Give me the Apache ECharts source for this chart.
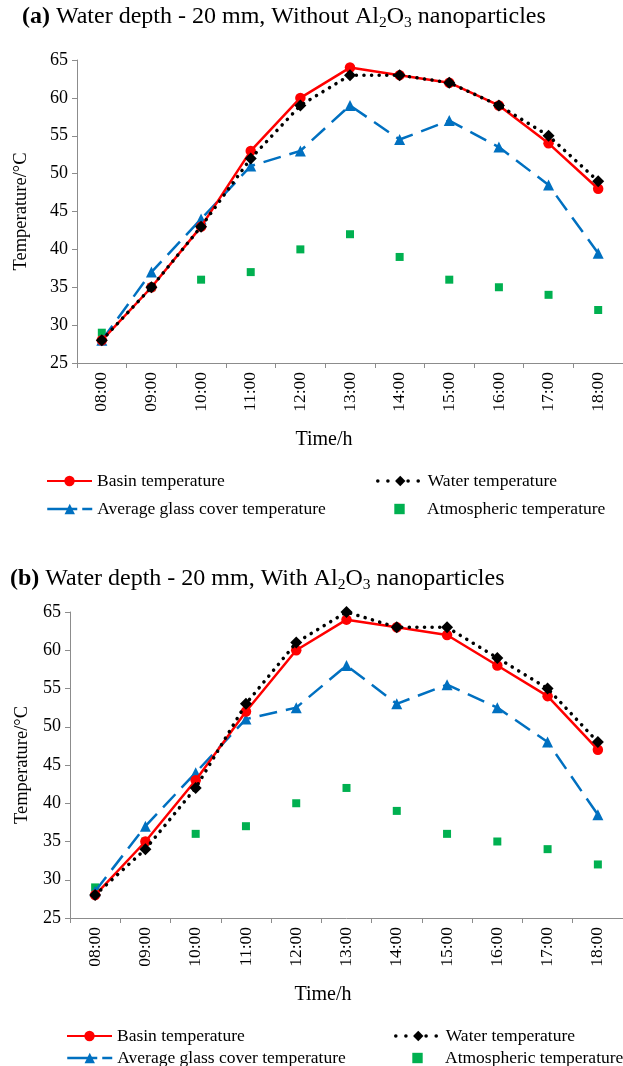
<!DOCTYPE html>
<html>
<head>
<meta charset="utf-8">
<script src="https://cdn.jsdelivr.net/npm/echarts@6/dist/echarts.min.js"></script>
<style>
html,body{margin:0;padding:0;background:#fff;}
#chart{width:623px;height:1066px;}
</style>
</head>
<body>
<div id="chart"></div>
<script>
// ---- data ----
var hours = ['08:00','09:00','10:00','11:00','12:00','13:00','14:00','15:00','16:00','17:00','18:00'];
var seriesNames = ['Basin temperature','Water temperature','Average glass cover temperature','Atmospheric temperature'];

// (a) Without Al2O3 nanoparticles
var basinA = [28, 35, 43, 53, 60, 64, 63, 62, 59, 54, 48];
var waterA = [28, 35, 43, 52, 59, 63, 63, 62, 59, 55, 49];
var glassA = [28, 37, 44, 51, 53, 59, 54.5, 57, 53.5, 48.5, 39.5];
var atmosA = [29, 35, 36, 37, 40, 42, 39, 36, 35, 34, 32];

// (b) With Al2O3 nanoparticles
var basinB = [28, 35, 43, 52, 60, 64, 63, 62, 58, 54, 47];
var waterB = [28, 34, 42, 53, 61, 65, 63, 63, 59, 55, 48];
var glassB = [28.5, 37, 44, 51, 52.5, 58, 53, 55.5, 52.5, 48, 38.5];
var atmosB = [29, 35, 36, 37, 40, 42, 39, 36, 35, 34, 32];

var yMin = 25, yMax = 65, yStep = 5;

// ---- styles ----
var FONT = '"Liberation Serif", "Times New Roman", serif';
var AXIS_COLOR = '#8c8c8c';
var RED = '#FF0000', BLACK = '#000000', BLUE = '#0070C0', GREEN = '#00B050';

function makeSeries(idx, b, w, g, a) {
  return [
    { name: seriesNames[0], type: 'line', xAxisIndex: idx, yAxisIndex: idx, data: b,
      symbol: 'circle', symbolSize: 10.5, color: RED,
      itemStyle: { color: RED }, lineStyle: { color: RED, width: 2.5 }, z: 4 },
    { name: seriesNames[1], type: 'line', xAxisIndex: idx, yAxisIndex: idx, data: w,
      symbol: 'diamond', symbolSize: 12, color: BLACK,
      itemStyle: { color: BLACK }, lineStyle: { color: BLACK, width: 3.5, type: [0.1, 7.5], cap: 'round' }, z: 5 },
    { name: seriesNames[2], type: 'line', xAxisIndex: idx, yAxisIndex: idx, data: g,
      symbol: 'triangle', symbolSize: 11, color: BLUE,
      itemStyle: { color: BLUE }, lineStyle: { color: BLUE, width: 2.5, type: [18, 9] }, z: 3 },
    { name: seriesNames[3], type: 'line', xAxisIndex: idx, yAxisIndex: idx, data: a,
      symbol: 'rect', symbolSize: 8, color: GREEN,
      itemStyle: { color: GREEN }, lineStyle: { color: 'rgba(0,0,0,0)', width: 0.01 }, z: 2 }
  ];
}

function xAxis(grid, namePad) {
  return {
    type: 'category', gridIndex: grid, data: hours, boundaryGap: true,
    axisLine: { show: true, lineStyle: { color: AXIS_COLOR, width: 1 } },
    axisTick: { show: true, length: 5, lineStyle: { color: AXIS_COLOR } },
    axisLabel: { interval: 0, rotate: 90, margin: 9, color: '#000', fontFamily: FONT, fontSize: 17.5 },
    splitLine: { show: false },
    name: 'Time/h', nameLocation: 'middle', nameGap: 67,
    nameTextStyle: { color: '#000', fontFamily: FONT, fontSize: 20, padding: namePad }
  };
}
function yAxis(grid, gap) {
  return {
    type: 'value', gridIndex: grid, min: yMin, max: yMax, interval: yStep,
    axisLine: { show: true, lineStyle: { color: AXIS_COLOR, width: 1 } },
    axisTick: { show: true, length: 5, lineStyle: { color: AXIS_COLOR } },
    axisLabel: { margin: 9, color: '#000', fontFamily: FONT, fontSize: 18 },
    splitLine: { show: false },
    name: 'Temperature/\u00B0C', nameLocation: 'middle', nameRotate: 90, nameGap: gap,
    nameTextStyle: { color: '#000', fontFamily: FONT, fontSize: 18.5 }
  };
}

var legendLines = {};
legendLines[seriesNames[1]] = { type: [0.1, 10], cap: 'round', width: 3.5 };
legendLines[seriesNames[2]] = { type: [30, 5], width: 2.5 };

function legend(name, left, centerY) {
  var l = {
    data: [name], left: left, top: centerY - 8, padding: 0, orient: 'horizontal',
    itemWidth: 45, itemHeight: 13, selectedMode: false,
    textStyle: { color: '#000', fontFamily: FONT, fontSize: 17.5, lineHeight: 16 }
  };
  if (legendLines[name]) l.lineStyle = legendLines[name];
  return l;
}

var titleRich = {
  b: { fontFamily: FONT, fontSize: 24, fontWeight: 'bold', color: '#000', lineHeight: 28 },
  n: { fontFamily: FONT, fontSize: 24, fontWeight: 'normal', color: '#000', lineHeight: 28 },
  s: { fontFamily: FONT, fontSize: 15.5, fontWeight: 'normal', color: '#000', lineHeight: 15, verticalAlign: 'bottom' }
};

var option = {
  animation: false,
  backgroundColor: '#fff',
  title: [
    { text: '{b|(a)}{n| Water depth - 20 mm, Without Al}{s|2}{n|O}{s|3}{n| nanoparticles}',
      left: 22, top: 3, padding: 0, textStyle: { fontWeight: 'normal', rich: titleRich } },
    { text: '{b|(b)}{n| Water depth - 20 mm, With Al}{s|2}{n|O}{s|3}{n| nanoparticles}',
      left: 10, top: 565, padding: 0, textStyle: { fontWeight: 'normal', rich: titleRich } }
  ],
  grid: [
    { left: 77, top: 60, width: 548, height: 303 },
    { left: 70, top: 612, width: 557, height: 306 }
  ],
  xAxis: [ xAxis(0, [0, 52, 0, 0]), xAxis(1, [0, 47, 0, 0]) ],
  yAxis: [ yAxis(0, 46), yAxis(1, 38) ],
  legend: [
    legend(seriesNames[0], 46, 480),
    legend(seriesNames[2], 46, 508),
    legend(seriesNames[1], 376, 480),
    legend(seriesNames[3], 376, 508),
    legend(seriesNames[0], 66, 1035),
    legend(seriesNames[2], 66, 1057),
    legend(seriesNames[1], 394, 1035),
    legend(seriesNames[3], 394, 1057)
  ],
  series: [].concat(makeSeries(0, basinA, waterA, glassA, atmosA), makeSeries(1, basinB, waterB, glassB, atmosB))
};

var chart = echarts.init(document.getElementById('chart'), null, { renderer: 'canvas' });
chart.setOption(option);
</script>
</body>
</html>
